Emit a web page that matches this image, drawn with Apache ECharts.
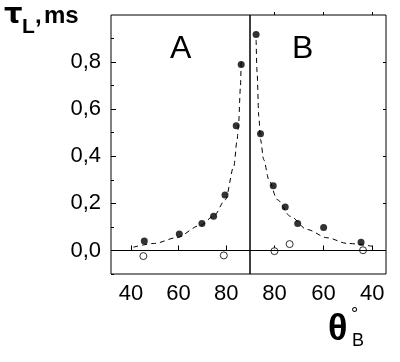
<!DOCTYPE html>
<html><head><meta charset="utf-8">
<script src="https://cdn.jsdelivr.net/npm/echarts@6/dist/echarts.min.js"></script>
<style>html,body{margin:0;padding:0;background:#fff}#c{width:400px;height:362px}</style>
</head><body><div id="c"></div>
<script>
const yTickLabels = [0, 0.2, 0.4, 0.6, 0.8];
const yMinorTicks = [-0.1, 0.1, 0.3, 0.5, 0.7, 0.9];
const xTickLabelsA = [40, 60, 80];
const xTickLabelsB = [80, 60, 40];

const leftFilledTheta = [45.6, 60.3, 69.8, 74.7, 79.5, 84.2, 86.3];
const leftFilledTau   = [0.04, 0.07, 0.115, 0.145, 0.235, 0.53, 0.79];
const leftOpenTheta = [45.2, 79.0];
const leftOpenTau   = [-0.024, -0.021];
const leftFitTheta = [41, 50, 59, 69, 74.7, 79.7, 83.2, 84.6, 85.2, 86.0, 86.3];
const leftFitTau   = [0.014, 0.03, 0.054, 0.106, 0.145, 0.216, 0.357, 0.47, 0.54, 0.696, 0.818];

const rightFilledTheta = [87.5, 85.7, 80.5, 75.6, 70.5, 59.9, 44.6];
const rightFilledTau   = [0.917, 0.496, 0.275, 0.185, 0.114, 0.097, 0.035];
const rightOpenTheta = [80.0, 73.8, 43.8];
const rightOpenTau   = [-0.003, 0.027, 0.001];
const rightFitTheta = [87.5, 87.1, 86.4, 85.7, 84.4, 82.3, 78.9, 73.5, 66.7, 58.5, 50.3, 40.1];
const rightFitTau   = [0.894, 0.753, 0.569, 0.47, 0.386, 0.301, 0.216, 0.145, 0.089, 0.054, 0.03, 0.018];

const zip = (a, b) => a.map((v, i) => [v, b[i]]);
const fmt = v => v.toFixed(1).replace('.', ',');
const FONT = 'Liberation Sans, Arial, sans-serif';

const chart = echarts.init(document.getElementById('c'), null, {renderer: 'canvas'});

const zeroLine = {
  silent: true, symbol: 'none', label: {show: false},
  lineStyle: {color: '#000', width: 1, type: 'solid'},
  data: [{yAxis: 0}], animation: false
};

function xAxes(gridIndex, min, max, inverse, ticks) {
  return [
    {type: 'value', gridIndex, min, max, inverse, position: 'bottom',
     axisLine: {show: false}, splitLine: {show: false},
     axisTick: {show: true, inside: true, length: 5, customValues: ticks, lineStyle: {color: '#000'}},
     axisLabel: {show: true, customValues: ticks, margin: 9, color: '#000', fontSize: 22, fontFamily: FONT}},
    {type: 'value', gridIndex, min, max, inverse, position: 'top',
     axisLine: {show: false}, splitLine: {show: false},
     axisTick: {show: true, inside: false, length: 3, customValues: ticks, lineStyle: {color: '#000'}},
     axisLabel: {show: false}}
  ];
}

const option = {
  animation: false,
  backgroundColor: '#fff',
  grid: [
    {left: 111, right: 150, top: 15, bottom: 88, show: true, borderColor: '#000', borderWidth: 1, backgroundColor: 'transparent'},
    {left: 250, right: 14, top: 15, bottom: 88, show: true, borderColor: '#000', borderWidth: 1, backgroundColor: 'transparent'}
  ],
  xAxis: [
    ...xAxes(0, 31.6, 90, false, xTickLabelsA),
    ...xAxes(1, 34.4, 90, true, xTickLabelsB)
  ],
  yAxis: [
    {type: 'value', gridIndex: 0, min: -0.1, max: 1.0, position: 'left', offset: 0,
     axisLine: {show: false}, splitLine: {show: false},
     axisTick: {show: true, inside: true, length: 5, customValues: yTickLabels, lineStyle: {color: '#000'}},
     axisLabel: {show: true, customValues: yTickLabels, formatter: fmt, margin: 10, color: '#000', fontSize: 22, fontFamily: FONT}},
    {type: 'value', gridIndex: 0, min: -0.1, max: 1.0, position: 'left', offset: 0,
     axisLine: {show: false}, splitLine: {show: false},
     axisTick: {show: true, inside: true, length: 3, customValues: yMinorTicks, lineStyle: {color: '#000'}},
     axisLabel: {show: false}},
    {type: 'value', gridIndex: 1, min: -0.1, max: 1.0, position: 'right', offset: 0,
     axisLine: {show: false}, splitLine: {show: false},
     axisTick: {show: true, inside: true, length: 3, customValues: yTickLabels, lineStyle: {color: '#000'}},
     axisLabel: {show: false}}
  ],
  series: [
    {type: 'line', xAxisIndex: 0, yAxisIndex: 0, data: zip(leftFitTheta, leftFitTau),
     smooth: 0.3, smoothMonotone: 'x', showSymbol: false, symbol: 'none',
     lineStyle: {color: '#000', width: 1, type: [5, 4]}, markLine: zeroLine, z: 2},
    {type: 'scatter', xAxisIndex: 0, yAxisIndex: 0, data: zip(leftFilledTheta, leftFilledTau),
     symbol: 'circle', symbolSize: 7, itemStyle: {color: '#000'}, z: 3},
    {type: 'scatter', xAxisIndex: 0, yAxisIndex: 0, data: zip(leftOpenTheta, leftOpenTau),
     symbol: 'circle', symbolSize: 7, itemStyle: {color: '#fff', borderColor: '#000', borderWidth: 1}, z: 3},
    {type: 'line', xAxisIndex: 2, yAxisIndex: 2, data: zip(rightFitTheta, rightFitTau),
     smooth: 0.3, smoothMonotone: 'x', showSymbol: false, symbol: 'none',
     lineStyle: {color: '#000', width: 1, type: [5, 4]}, markLine: zeroLine, z: 2},
    {type: 'scatter', xAxisIndex: 2, yAxisIndex: 2, data: zip(rightFilledTheta, rightFilledTau),
     symbol: 'circle', symbolSize: 7, itemStyle: {color: '#000'}, z: 3},
    {type: 'scatter', xAxisIndex: 2, yAxisIndex: 2, data: zip(rightOpenTheta, rightOpenTau),
     symbol: 'circle', symbolSize: 7, itemStyle: {color: '#fff', borderColor: '#000', borderWidth: 1}, z: 3}
  ],
  graphic: [
    {type: 'text', left: 4, top: 1, style: {text: 'τ', font: 'bold 29px DejaVu Sans, sans-serif', fill: '#000'}},
    {type: 'text', left: 22, top: 17, style: {text: 'L', font: 'bold 21px ' + FONT, fill: '#000'}},
    {type: 'text', left: 35, top: 4, style: {text: ',', font: 'bold 24px ' + FONT, fill: '#000'}},
    {type: 'text', left: 44, top: 4, style: {text: 'ms', font: 'bold 24px ' + FONT, fill: '#000'}},
    {type: 'text', left: 170, top: 33, style: {text: 'A', font: '32px ' + FONT, fill: '#000'}},
    {type: 'text', left: 292, top: 33, style: {text: 'B', font: '32px ' + FONT, fill: '#000'}},
    {type: 'text', left: 328, top: 312, style: {text: 'θ', font: 'bold 36px ' + FONT, fill: '#000'}},
    {type: 'text', left: 352, top: 332, style: {text: 'B', font: '18px ' + FONT, fill: '#000'}},
    {type: 'text', left: 351, top: 306, style: {text: '°', font: '18px ' + FONT, fill: '#000'}}
  ]
};
chart.setOption(option);
</script></body></html>
